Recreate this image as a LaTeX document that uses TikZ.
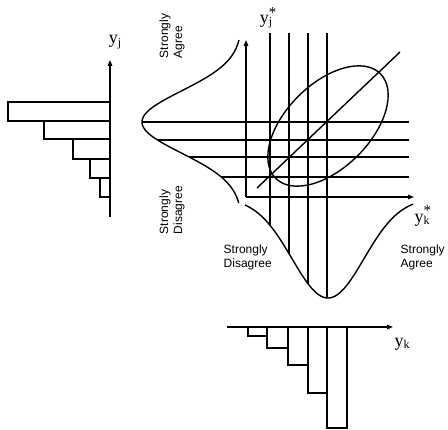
\documentclass[tikz,border=0pt]{standalone}
\usepackage{fontspec}
\setmainfont{Liberation Serif}
\newfontfamily\arialf{Liberation Sans}
\usetikzlibrary{arrows.meta}
\newcommand{\ysub}[1]{y\raisebox{-0.3ex}{\fontsize{12}{12}\selectfont #1}}
\newcommand{\ysubstar}[1]{y\rlap{\raisebox{0.75ex}{\fontsize{15}{15}\selectfont *}}\raisebox{-0.3ex}{\fontsize{12}{12}\selectfont #1}}
\begin{document}
\begin{tikzpicture}[x=1pt,y=-1pt,line width=1.4pt,
  axarrow/.style={-{Triangle[length=6pt,width=4.5pt]},line width=1.3pt},
  bar/.style={line width=1.4pt},
  lbl/.style={font=\arialf\fontsize{12}{14}\selectfont,align=left,inner sep=0pt},
  ylbl/.style={font=\fontsize{18}{20}\selectfont,inner sep=0pt}]
\useasboundingbox (0,0) rectangle (448,430);
% left histogram
\draw[bar] (8,102) rectangle (110,121);
\draw[bar] (44,121) rectangle (110,139);
\draw[bar] (73,139) rectangle (110,159);
\draw[bar] (90,159) rectangle (110,178);
\draw[bar] (100,178) rectangle (110,197);
\coordinate (lyb) at (110,217);
\coordinate (lyt) at (110,60);
\draw[axarrow] (lyb) -- (lyt);
\node[ylbl] (yj) at (115,42) {\ysub{j}};
% vertical density curve
\draw[domain=40:203,samples=90,smooth,variable=\t] plot ({242-100*exp(-((\t-122)/31)^2/2)},\t);
% bottom density curve
\draw[domain=245:413,samples=90,smooth,variable=\t] plot (\t,{198+100*exp(-((\t-328)/36)^2/2)});
% horizontal lines
\foreach \yy in {122,140,157,177}
  \draw ({242-100*exp(-((\yy-122)/31)^2/2)},\yy) -- (409,\yy);
% vertical lines
\foreach \xx in {270,289,308,327}
  \draw (\xx,33) -- (\xx,{198+100*exp(-((\xx-328)/36)^2/2)});
% axes
\coordinate (o) at (246,197);
\coordinate (ytop) at (246,40);
\coordinate (xright) at (414,197);
\draw[axarrow] (o) -- (ytop);
\draw[axarrow] (o) -- (xright);
\node[ylbl] (yjs) at (266,18) {\ysubstar{j}};
\node[ylbl] (yks) at (422,216) {\ysubstar{k}};
% ellipse and diagonal
\draw[rotate around={45:(328,126)}] (328,126) ellipse [x radius=74, y radius=42];
\coordinate (d1) at (257,188);
\coordinate (d2) at (400,52);
\draw (d1) -- (d2);
% bottom histogram
\draw[bar] (248,327) rectangle (267,336);
\draw[bar] (267,327) rectangle (288,348);
\draw[bar] (288,327) rectangle (308,365);
\draw[bar] (308,327) rectangle (327,393);
\draw[bar] (327,327) rectangle (347,428);
\coordinate (bxl) at (227,327);
\coordinate (bxr) at (393,327);
\draw[axarrow] (bxl) -- (bxr);
\node[ylbl] (yk) at (402,344) {\ysub{k}};
% labels
\node[lbl,anchor=west] (sdb) at (223,257) {Strongly\\Disagree};
\node[lbl,anchor=west] (sab) at (400,257) {Strongly\\Agree};
\node[lbl,rotate=90] (sar) at (172,36) {Strongly\\Agree};
\node[lbl,rotate=90] (sdr) at (172,210) {Strongly\\Disagree};
\end{tikzpicture}
\end{document}
